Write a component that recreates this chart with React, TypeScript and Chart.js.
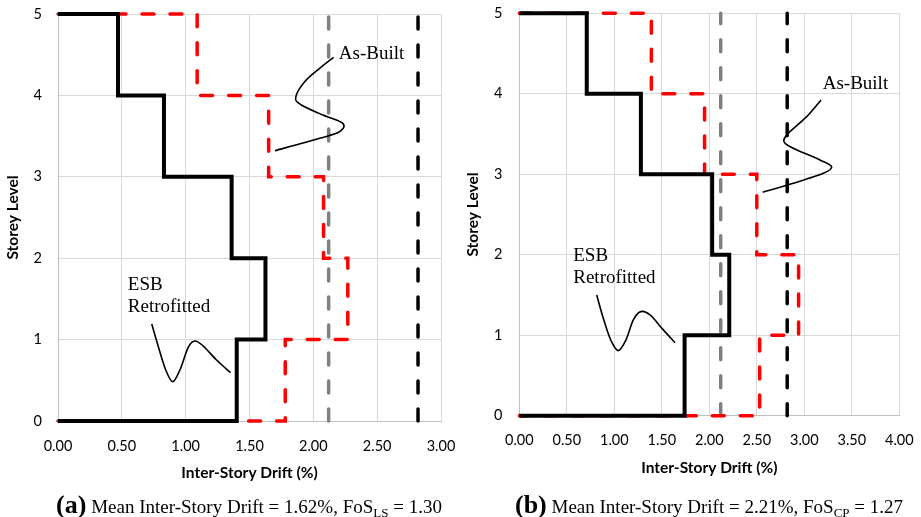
import React, { useEffect, useRef } from 'react';
import { Chart, registerables } from 'chart.js';
Chart.register(...registerables);

// Storey-wise inter-story drift (%) for storeys 1..5
const storeyTicks = [0, 1, 2, 3, 4, 5];
const esbRetrofittedLS = [1.4, 1.625, 1.36, 0.83, 0.47];
const asBuiltLS = [1.78, 2.27, 2.08, 1.65, 1.09];
const esbRetrofittedCP = [1.74, 2.21, 2.03, 1.28, 0.71];
const asBuiltCP = [2.53, 2.94, 2.5, 1.95, 1.39];
const limitGrey = 2.12;
const limitBlack = 2.82;
const xMaxA = 3;
const xMaxB = 4;

// annotation leader curves (data units)
const asBuiltCurveA = [
  [2.159, 4.468], [2.049, 4.333], [1.932, 4.168], [1.862, 3.977], [1.906, 3.882],
  [2.075, 3.759], [2.231, 3.657], [2.205, 3.554], [2.049, 3.473], [1.7, 3.321],
];
const esbCurveA = [
  [0.734, 1.192], [0.786, 0.913], [0.844, 0.627], [0.898, 0.483], [0.955, 0.627],
  [1.02, 0.905], [1.073, 0.983], [1.138, 0.921], [1.242, 0.749], [1.352, 0.593],
];
const asBuiltCurveB = [
  [3.176, 3.923], [3.025, 3.716], [2.832, 3.509], [2.786, 3.405], [2.884, 3.323],
  [3.165, 3.178], [3.288, 3.094], [3.2, 3.012], [2.884, 2.888], [2.562, 2.776],
];
const esbCurveB = [
  [0.815, 1.501], [0.884, 1.211], [0.962, 0.942], [1.042, 0.809], [1.123, 0.942],
  [1.2, 1.19], [1.278, 1.293], [1.376, 1.252], [1.516, 1.066], [1.639, 0.908],
];

function profile(d: number[]) {
  const pts: { x: number; y: number }[] = [{ x: 0, y: d.length }];
  for (let i = d.length - 1; i >= 0; i--) {
    pts.push({ x: d[i], y: i + 1 });
    pts.push({ x: d[i], y: i });
  }
  pts.push({ x: 0, y: 0 });
  return pts;
}

function vline(x: number) {
  return [
    { x, y: storeyTicks[0] },
    { x, y: storeyTicks[storeyTicks.length - 1] },
  ];
}

type PanelProps = {
  esb: number[];
  asBuilt: number[];
  xMax: number;
  width: number;
  height: number;
  padRight: number;
  padTop: number;
  yWidth: number;
  xHeight: number;
  xTitlePad: number;
  yTickPad: number;
  xTickPad: number;
  asBuiltCurve: number[][];
  asBuiltText: [number, number];
  esbCurve: number[][];
  esbText: [number, number, number];
};

function zeroPad(s: any) {
  s.paddingTop = 0;
  s.paddingBottom = 0;
  s.paddingLeft = 0;
  s.paddingRight = 0;
}

function Panel(p: PanelProps) {
  const ref = useRef<HTMLCanvasElement>(null);
  useEffect(() => {
    const ctx = ref.current!;
    const annot = {
      id: 'annot',
      afterDatasetsDraw(chart: any) {
        const c = chart.ctx;
        const xs = chart.scales.x;
        const ys = chart.scales.y;
        const px = (v: number) => xs.getPixelForValue(v);
        const py = (v: number) => ys.getPixelForValue(v);
        const spline = (arr: number[][]) => {
          const pts = arr.map((q) => ({ x: px(q[0]), y: py(q[1]) }));
          c.save();
          c.strokeStyle = '#000';
          c.lineWidth = 1.6;
          c.beginPath();
          c.moveTo(pts[0].x, pts[0].y);
          for (let i = 0; i < pts.length - 1; i++) {
            const p0 = pts[i - 1] || pts[i];
            const p1 = pts[i];
            const p2 = pts[i + 1];
            const p3 = pts[i + 2] || p2;
            const t = 1 / 6;
            c.bezierCurveTo(
              p1.x + (p2.x - p0.x) * t, p1.y + (p2.y - p0.y) * t,
              p2.x - (p3.x - p1.x) * t, p2.y - (p3.y - p1.y) * t,
              p2.x, p2.y
            );
          }
          c.stroke();
          c.restore();
        };
        spline(p.asBuiltCurve);
        spline(p.esbCurve);
        c.save();
        c.fillStyle = '#000';
        c.font = "19px 'Liberation Serif'";
        c.textAlign = 'left';
        c.textBaseline = 'middle';
        c.fillText('As-Built', px(p.asBuiltText[0]), py(p.asBuiltText[1]));
        c.fillText('ESB', px(p.esbText[0]), py(p.esbText[1]));
        c.fillText('Retrofitted', px(p.esbText[0]), py(p.esbText[2]));
        c.restore();
      },
    };
    const dash = [12, 16];
    const chart = new Chart(ctx, {
      type: 'line',
      data: {
        datasets: [
          {
            label: 'ESB Retrofitted',
            data: profile(p.esb),
            borderColor: '#000000',
            borderWidth: 4,
            pointRadius: 0,
            fill: false,
            tension: 0,
            clip: false as any,
            borderJoinStyle: 'miter',
          },
          {
            label: 'As-Built',
            data: profile(p.asBuilt),
            borderColor: '#ff0000',
            borderWidth: 3.5,
            borderDash: dash,
            borderCapStyle: 'round',
            pointRadius: 0,
            fill: false,
            clip: false as any,
          },
          {
            label: 'Limit 1',
            data: vline(limitGrey),
            borderColor: '#808080',
            borderWidth: 3.5,
            borderDash: dash,
            borderCapStyle: 'round',
            pointRadius: 0,
            fill: false,
            clip: false as any,
          },
          {
            label: 'Limit 2',
            data: vline(limitBlack),
            borderColor: '#000000',
            borderWidth: 3.5,
            borderDash: dash,
            borderCapStyle: 'round',
            pointRadius: 0,
            fill: false,
            clip: false as any,
          },
        ],
      },
      options: {
        animation: false,
        responsive: false,
        parsing: false as any,
        normalized: true,
        layout: { padding: { left: 0, right: p.padRight, top: p.padTop, bottom: 0 } },
        plugins: { legend: { display: false }, tooltip: { enabled: false }, title: { display: false } },
        events: [],
        scales: {
          x: {
            type: 'linear',
            min: 0,
            max: p.xMax,
            afterFit: (s: any) => { s.height = p.xHeight; zeroPad(s); },
            ticks: {
              stepSize: 0.5,
              padding: p.xTickPad,
              color: '#000',
              font: { family: 'Lato', size: 14.5 },
              callback: (v: any) => Number(v).toFixed(2),
            },
            grid: { color: '#d9d9d9', lineWidth: 1, drawTicks: false },
            border: { display: true, color: '#bfbfbf', width: 1 },
            title: {
              display: true,
              text: 'Inter-Story Drift (%)',
              color: '#000',
              font: { family: 'Lato', size: 15.5, weight: 'bold' },
              padding: { top: 0, bottom: p.xTitlePad },
            },
          },
          y: {
            type: 'linear',
            min: storeyTicks[0],
            max: storeyTicks[storeyTicks.length - 1],
            afterFit: (s: any) => { s.width = p.yWidth; zeroPad(s); },
            ticks: {
              stepSize: 1,
              padding: p.yTickPad,
              color: '#000',
              font: { family: 'Lato', size: 14.5 },
            },
            grid: { color: '#d9d9d9', lineWidth: 1, drawTicks: false },
            border: { display: true, color: '#bfbfbf', width: 1 },
            title: {
              display: true,
              text: 'Storey Level',
              color: '#000',
              font: { family: 'Lato', size: 15.5, weight: 'bold' },
              padding: { top: 4, bottom: 0 },
            },
          },
        },
      } as any,
      plugins: [annot],
    });
    return () => chart.destroy();
  }, []);
  return <canvas ref={ref} width={p.width} height={p.height} style={{ display: 'block' }} />;
}

const capBase: React.CSSProperties = {
  position: 'absolute',
  top: 505,
  transform: 'translate(-50%, -50%)',
  whiteSpace: 'nowrap',
  fontFamily: "'Liberation Serif', serif",
  fontSize: 19,
  color: '#000',
  lineHeight: 1,
};

function Caption({ letter, mean, sub, fos, cx }: { letter: string; mean: string; sub: string; fos: string; cx: number }) {
  return (
    <div style={{ ...capBase, left: cx }}>
      <span style={{ fontWeight: 'bold', fontSize: 26 }}>({letter})</span>
      {' '}Mean Inter-Story Drift = {mean}%, FoS
      <span style={{ fontSize: 13, verticalAlign: -4 }}>{sub}</span> = {fos}
    </div>
  );
}

export default function App() {
  return (
    <div style={{ position: 'fixed', left: 0, top: 0, width: 921, height: 517, background: '#fff', overflow: 'hidden' }}>
      <div style={{ position: 'absolute', left: 0, top: 0 }}>
        <Panel
          esb={esbRetrofittedLS}
          asBuilt={asBuiltLS}
          xMax={xMaxA}
          width={460}
          height={517}
          padRight={19}
          padTop={14}
          yWidth={58}
          xHeight={96}
          xTitlePad={35}
          yTickPad={16}
          xTickPad={17}
          asBuiltCurve={asBuiltCurveA}
          asBuiltText={[2.2, 4.509]}
          esbCurve={esbCurveA}
          esbText={[0.547, 1.671, 1.397]}
        />
      </div>
      <div style={{ position: 'absolute', left: 460, top: 0 }}>
        <Panel
          esb={esbRetrofittedCP}
          asBuilt={asBuiltCP}
          xMax={xMaxB}
          width={461}
          height={517}
          padRight={21.7}
          padTop={13.3}
          yWidth={59.3}
          xHeight={101.3}
          xTitlePad={40}
          yTickPad={17}
          xTickPad={16}
          asBuiltCurve={asBuiltCurveB}
          asBuiltText={[3.194, 4.118]}
          esbCurve={esbCurveB}
          esbText={[0.568, 1.985, 1.708]}
        />
      </div>
      <Caption letter="a" mean="1.62" sub="LS" fos="1.30" cx={249} />
      <Caption letter="b" mean="2.21" sub="CP" fos="1.27" cx={709} />
    </div>
  );
}
